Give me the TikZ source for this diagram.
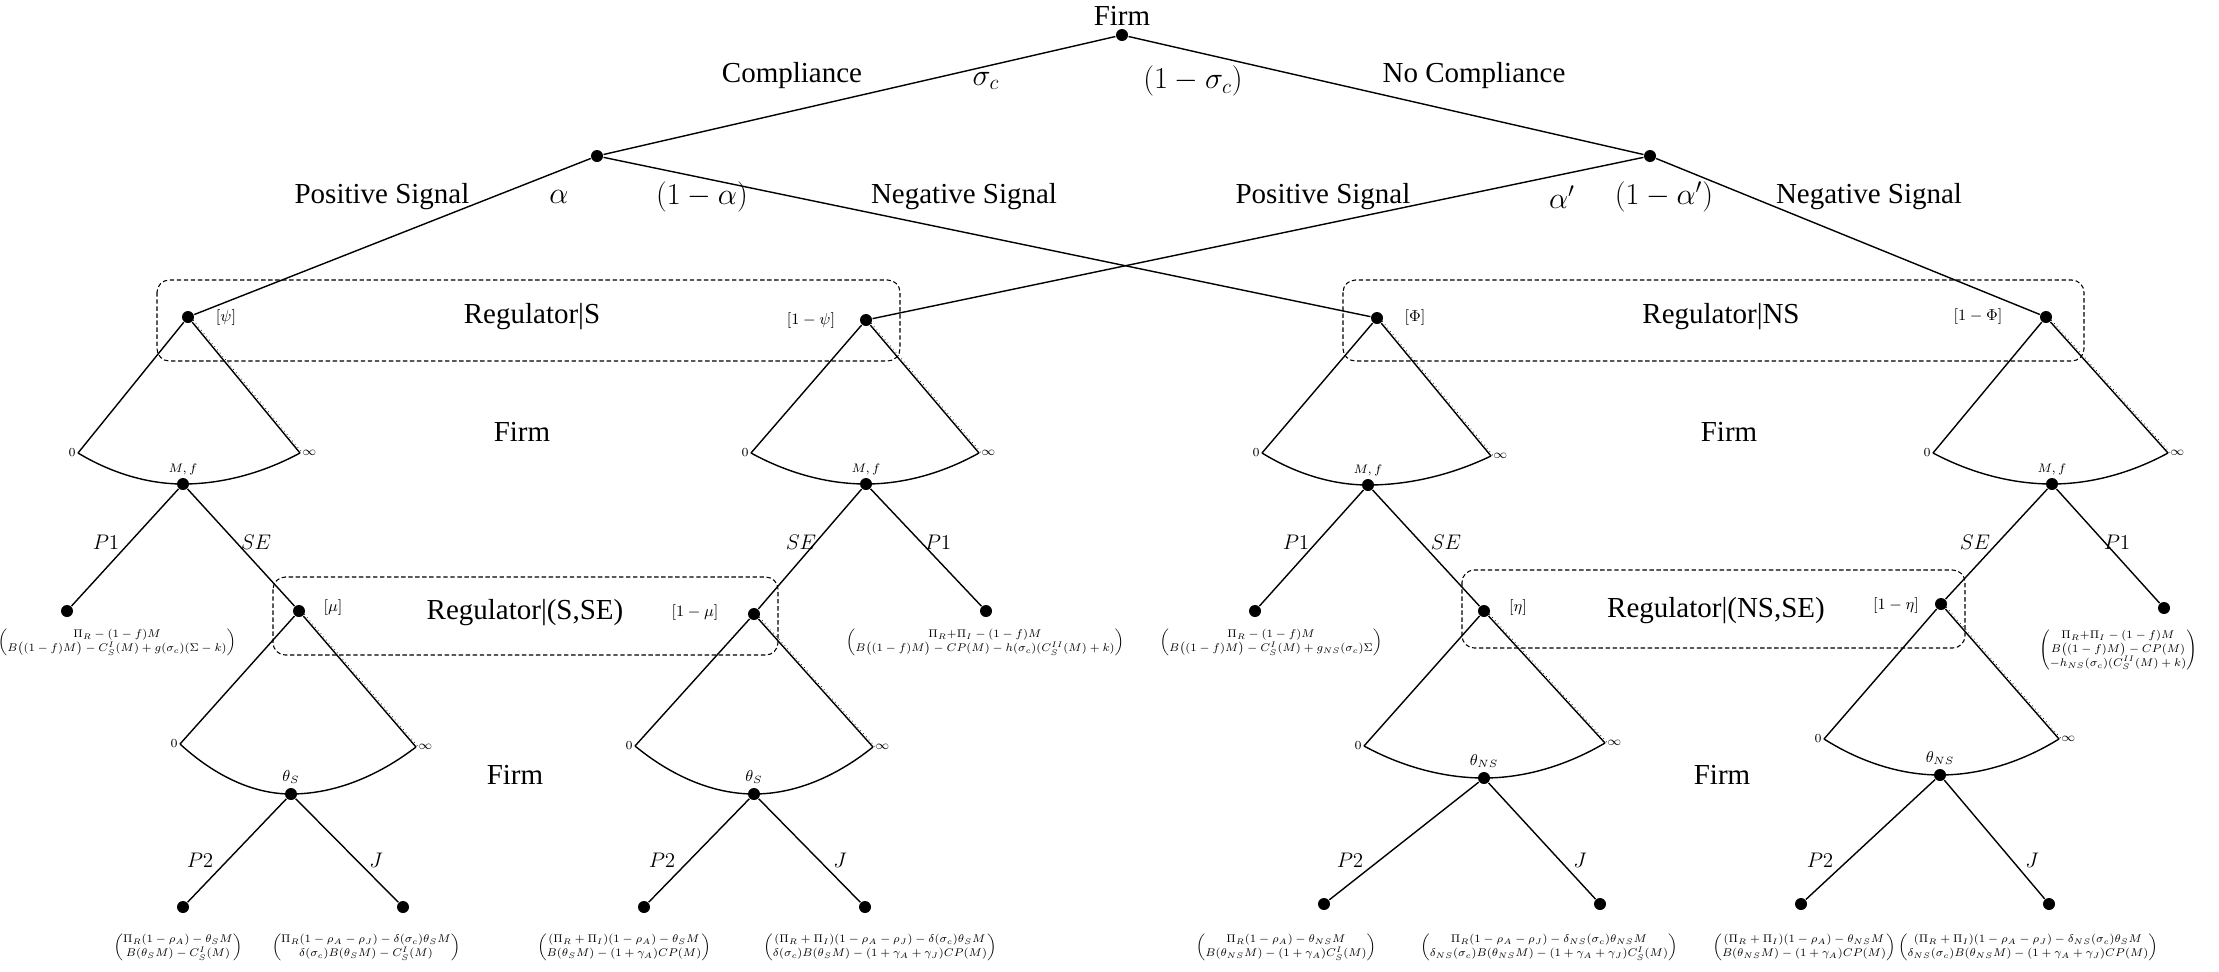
\documentclass[tikz,border=0pt]{standalone}
\usepackage{amsmath}
\usepackage{fontspec}
\setmainfont{Liberation Serif}
\newcommand{\payvec}[1]{\scalebox{0.91}{$\begin{pmatrix}#1\end{pmatrix}$}}
\tikzset{
  dot/.style={circle,fill=black,inner sep=0pt,minimum size=0.24cm},
  infoset/.style={draw,dash pattern=on 2.5pt off 1.5pt,rounded corners=7pt},
  bigtxt/.style={font=\fontsize{16.5}{18}\selectfont},
  belief/.style={font=\fontsize{9.5}{11}\selectfont},
  act/.style={font=\fontsize{11.5}{13}\selectfont},
  endtxt/.style={font=\fontsize{7}{8}\selectfont,inner sep=1pt},
  typetxt/.style={font=\fontsize{9}{10}\selectfont,inner sep=2pt},
  payoff/.style={font=\fontsize{7}{8.5}\selectfont,inner sep=0pt},
  strat/.style={dotted,line width=0.4pt,transform canvas={xshift=1.4pt}},
}
\begin{document}
\begin{tikzpicture}[x=0.02cm,y=-0.02cm,line width=0.8pt]
\useasboundingbox (0,0) rectangle (2219,971);

\begin{scope}[line width=0.6pt] % information sets of the regulator
  \draw[infoset] (157,280) rectangle (900,361);
  \draw[infoset] (1343,280) rectangle (2084,361);
  \draw[infoset] (273,577) rectangle (778,655);
  \draw[infoset] (1462,570) rectangle (1965,648);
\end{scope}

% decision nodes
\node[dot,label={[bigtxt,inner sep=1pt]above:Firm}] (firm) at (1122,35) {};
\node[dot] (c) at (597,156) {};
\node[dot] (nc) at (1650,156) {};

\node[dot] (rs1) at (188,317) {};
\node[dot] (rs2) at (866,320) {};
\node[dot] (rn1) at (1377,318) {};
\node[dot] (rn2) at (2046,317) {};

\node[dot,label={[endtxt]above:$M,f$}] (fs1) at (183,484) {};
\node[dot,label={[endtxt]above:$M,f$}] (fs2) at (866,484) {};
\node[dot,label={[endtxt]above:$M,f$}] (fn1) at (1368,485) {};
\node[dot,label={[endtxt]above:$M,f$}] (fn2) at (2052,484) {};

\node[dot] (rss1) at (299,611) {};
\node[dot] (rss2) at (754,614) {};
\node[dot] (rns1) at (1484,611) {};
\node[dot] (rns2) at (1941,604) {};

\node[dot,label={[typetxt]above:$\theta_S$}] (ts1) at (291,794) {};
\node[dot,label={[typetxt]above:$\theta_S$}] (ts2) at (754,794) {};
\node[dot,label={[typetxt]above:$\theta_{NS}$}] (tn1) at (1484,778) {};
\node[dot,label={[typetxt]above:$\theta_{NS}$}] (tn2) at (1940,775) {};

% leaves
\node[dot] (ls1) at (67,611) {};
\node[dot] (ls2) at (986,611) {};
\node[dot] (ln1) at (1255,611) {};
\node[dot] (ln2) at (2164,608) {};
\node[dot] (ps1) at (183,907) {};
\node[dot] (js1) at (403,907) {};
\node[dot] (ps2) at (644,907) {};
\node[dot] (js2) at (865,907) {};
\node[dot] (pn1) at (1324,904) {};
\node[dot] (jn1) at (1600,904) {};
\node[dot] (pn2) at (1801,904) {};
\node[dot] (jn2) at (2049,904) {};

% ends of the continuous choices
\coordinate[label={[endtxt]left:$0$}] (rs1-0) at (78,453);
\coordinate[label={[endtxt]right:$\infty$}] (rs1-inf) at (300,453);
\coordinate[label={[endtxt]left:$0$}] (rs2-0) at (751,453);
\coordinate[label={[endtxt]right:$\infty$}] (rs2-inf) at (979,453);
\coordinate[label={[endtxt]left:$0$}] (rn1-0) at (1262,453);
\coordinate[label={[endtxt]right:$\infty$}] (rn1-inf) at (1491,456);
\coordinate[label={[endtxt]left:$0$}] (rn2-0) at (1933,453);
\coordinate[label={[endtxt]right:$\infty$}] (rn2-inf) at (2168,453);
\coordinate[label={[endtxt]left:$0$}] (rss1-0) at (180,744);
\coordinate[label={[endtxt]right:$\infty$}] (rss1-inf) at (416,747);
\coordinate[label={[endtxt]left:$0$}] (rss2-0) at (635,746);
\coordinate[label={[endtxt]right:$\infty$}] (rss2-inf) at (873,747);
\coordinate[label={[endtxt]left:$0$}] (rns1-0) at (1364,746);
\coordinate[label={[endtxt]right:$\infty$}] (rns1-inf) at (1605,743);
\coordinate[label={[endtxt]left:$0$}] (rns2-0) at (1824,739);
\coordinate[label={[endtxt]right:$\infty$}] (rns2-inf) at (2059,739);

% branches
\draw (firm) -- (c);
\draw (firm) -- (nc);
\draw (c) -- (rs1);
\draw (c) -- (rn1);
\draw (nc) -- (rs2);
\draw (nc) -- (rn2);

\foreach \r/\f in {rs1/fs1,rs2/fs2,rn1/fn1,rn2/fn2,rss1/ts1,rss2/ts2,rns1/tn1,rns2/tn2} {
  \draw (\r) -- (\r-0);
  \draw (\r) -- (\r-inf);
  \draw[strat] (\r.center) -- (\r-inf);
  \draw (\r-0) parabola bend (\f.center) (\r-inf);
}

\draw (fs1) -- (ls1);
\draw (fs1) -- (rss1);
\draw (fs2) -- (rss2);
\draw (fs2) -- (ls2);
\draw (fn1) -- (ln1);
\draw (fn1) -- (rns1);
\draw (fn2) -- (rns2);
\draw (fn2) -- (ln2);

\draw (ts1) -- (ps1);
\draw (ts1) -- (js1);
\draw (ts2) -- (ps2);
\draw (ts2) -- (js2);
\draw (tn1) -- (pn1);
\draw (tn1) -- (jn1);
\draw (tn2) -- (pn2);
\draw (tn2) -- (jn2);

\begin{scope}[bigtxt] % moves and probabilities
  \node at (792,76) {Compliance};
  \node at (986,81) {$\sigma_c$};
  \node at (1193,81) {$(1-\sigma_c)$};
  \node at (1474,76) {No Compliance};
  \node at (382,197) {Positive Signal};
  \node at (559,197) {$\alpha$};
  \node at (702,197) {$(1-\alpha)$};
  \node at (964,197) {Negative Signal};
  \node at (1323,197) {Positive Signal};
  \node at (1562,197) {$\alpha'$};
  \node at (1664,197) {$(1-\alpha')$};
  \node at (1869,197) {Negative Signal};
\end{scope}

\begin{scope}[bigtxt] % players
  \node at (532,317) {Regulator|S};
  \node at (1721,317) {Regulator|NS};
  \node at (522,432) {Firm};
  \node at (1729,432) {Firm};
  \node at (525,613) {Regulator|(S,SE)};
  \node at (1716,611) {Regulator|(NS,SE)};
  \node at (515,775) {Firm};
  \node at (1722,775) {Firm};
\end{scope}

\begin{scope}[belief] % beliefs
  \node at (226,318) {$[\psi]$};
  \node at (811,321) {$[1-\psi]$};
  \node at (1415,318) {$[\Phi]$};
  \node at (1978,317) {$[1-\Phi]$};
  \node at (333,608) {$[\mu]$};
  \node at (695,613) {$[1-\mu]$};
  \node at (1518,608) {$[\eta]$};
  \node at (1896,606) {$[1-\eta]$};
\end{scope}

\begin{scope}[act] % actions
  \node at (106,542) {$P1$};
  \node at (256,542) {$SE$};
  \node at (801,542) {$SE$};
  \node at (938,542) {$P1$};
  \node at (1296,542) {$P1$};
  \node at (1446,542) {$SE$};
  \node at (1975,542) {$SE$};
  \node at (2117,542) {$P1$};
  \node at (200,860) {$P2$};
  \node at (376,860) {$J$};
  \node at (662,860) {$P2$};
  \node at (840,860) {$J$};
  \node at (1350,860) {$P2$};
  \node at (1580,860) {$J$};
  \node at (1820,860) {$P2$};
  \node at (2032,860) {$J$};
\end{scope}

\begin{scope}[payoff] % payoffs
  \node at (117,642) {\payvec{\Pi_R-(1-f)M\\ B\big((1-f)M\big)-C_S^I(M)+g(\sigma_c)(\Sigma-k)}};
  \node at (985,642) {\payvec{\Pi_R{+}\Pi_I-(1-f)M\\ B\big((1-f)M\big)-CP(M)-h(\sigma_c)(C_S^{II}(M)+k)}};
  \node at (1271,642) {\payvec{\Pi_R-(1-f)M\\ B\big((1-f)M\big)-C_S^I(M)+g_{NS}(\sigma_c)\Sigma}};
  \node at (2118,650) {\payvec{\Pi_R{+}\Pi_I-(1-f)M\\ B\big((1-f)M\big)-CP(M)\\ -h_{NS}(\sigma_c)(C_S^{II}(M)+k)}};
  \node at (178,947) {\payvec{\Pi_R(1-\rho_A)-\theta_SM\\ B(\theta_SM)-C_S^I(M)}};
  \node at (366,947) {\payvec{\Pi_R(1-\rho_A-\rho_J)-\delta(\sigma_c)\theta_SM\\ \delta(\sigma_c)B(\theta_SM)-C_S^I(M)}};
  \node at (624,947) {\payvec{(\Pi_R+\Pi_I)(1-\rho_A)-\theta_SM\\ B(\theta_SM)-(1+\gamma_A)CP(M)}};
  \node at (880,947) {\payvec{(\Pi_R+\Pi_I)(1-\rho_A-\rho_J)-\delta(\sigma_c)\theta_SM\\ \delta(\sigma_c)B(\theta_SM)-(1+\gamma_A+\gamma_J)CP(M)}};
  \node at (1286,947) {\payvec{\Pi_R(1-\rho_A)-\theta_{NS}M\\ B(\theta_{NS}M)-(1+\gamma_A)C_S^I(M)}};
  \node at (1549,947) {\payvec{\Pi_R(1-\rho_A-\rho_J)-\delta_{NS}(\sigma_c)\theta_{NS}M\\ \delta_{NS}(\sigma_c)B(\theta_{NS}M)-(1+\gamma_A+\gamma_J)C_S^I(M)}};
  \node at (1804,947) {\payvec{(\Pi_R+\Pi_I)(1-\rho_A)-\theta_{NS}M\\ B(\theta_{NS}M)-(1+\gamma_A)CP(M)}};
  \node at (2028,947) {\payvec{(\Pi_R+\Pi_I)(1-\rho_A-\rho_J)-\delta_{NS}(\sigma_c)\theta_SM\\ \delta_{NS}(\sigma_c)B(\theta_{NS}M)-(1+\gamma_A+\gamma_J)CP(M)}};
\end{scope}

\end{tikzpicture}
\end{document}
